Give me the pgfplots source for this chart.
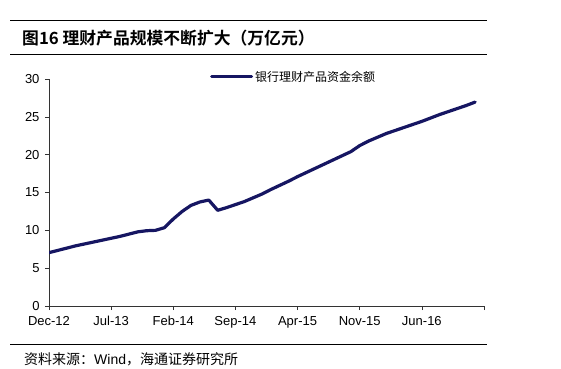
\documentclass[border=0pt]{standalone}
\usepackage{pgfplots}
\pgfplotsset{compat=1.18}
\usepackage{fontspec}
\setmainfont{Liberation Sans}
\newfontfamily\cjk[BoldFont={Noto Sans CJK SC Bold}]{Noto Sans CJK SC}
\definecolor{navy}{RGB}{22,22,98}
\pgfplotstableread{
m v
0 7.05
1 7.35
2 7.65
3 7.95
4 8.2
5 8.45
6 8.7
7 8.95
8 9.2
9 9.5
10 9.8
11 9.95
12 10.0
13 10.35
14 11.5
15 12.5
16 13.3
17 13.75
18 14.0
19 12.65
20 13.0
21 13.4
22 13.8
23 14.3
24 14.8
25 15.4
26 15.95
27 16.5
28 17.1
29 17.65
30 18.2
31 18.75
32 19.3
33 19.85
34 20.4
35 21.2
36 21.8
37 22.3
38 22.8
39 23.2
40 23.6
41 24.0
42 24.4
43 24.85
44 25.3
45 25.7
46 26.1
47 26.5
48 26.95
}\balance
\begin{document}
\begin{tikzpicture}
\path[use as bounding box] (0,0) rectangle (561bp,369bp);
\draw[line width=0.8pt] (10bp,349bp) -- (487bp,349bp);
\draw[line width=0.8pt] (10bp,315bp) -- (487bp,315bp);
\draw[line width=0.8pt] (10bp,25bp) -- (487bp,25bp);
\node[anchor=west,inner sep=0pt] at (22bp,331bp) {\cjk\bfseries\fontsize{16.8bp}{19bp}\selectfont 图16 理财产品规模不断扩大（万亿元）};
\node[anchor=west,inner sep=0pt] at (24bp,10bp) {\cjk\fontsize{14bp}{16bp}\selectfont 资料来源：\fontspec{Liberation Sans}Wind\cjk，海通证券研究所};
\begin{axis}[
  at={(49bp,63bp)}, anchor=south west,
  width=435bp, height=227bp, scale only axis,
  xmin=0, xmax=49, ymin=0, ymax=30,
  axis x line*=bottom, axis y line*=left,
  axis line style={line width=0.6pt, black!80},
  xtick={0,7,14,21,28,35,42,49},
  xticklabels={Dec-12,Jul-13,Feb-14,Sep-14,Apr-15,Nov-15,Jun-16,{}},
  ytick={0,5,...,30},
  tick align=outside, major tick length=4bp,
  tick style={line width=0.6pt, black!80},
  /pgf/number format/assume math mode=true,
  ticklabel style={font=\fontsize{13bp}{15bp}\selectfont},
  xticklabel style={yshift=-3bp},
  yticklabel style={xshift=-2bp},
  legend style={at={(0.37,1.01)}, anchor=west, draw=none, fill=none,
    font=\cjk\fontsize{12bp}{14bp}\selectfont, inner sep=0pt},
  legend image code/.code={\draw[#1,line width=3bp] (0bp,0bp) -- (40bp,0bp);},
]
\addplot[navy, line width=3.2bp, line join=round, line cap=round] table[x=m,y=v] {\balance};
\addlegendentry{银行理财产品资金余额}
\end{axis}
\end{tikzpicture}
\end{document}
